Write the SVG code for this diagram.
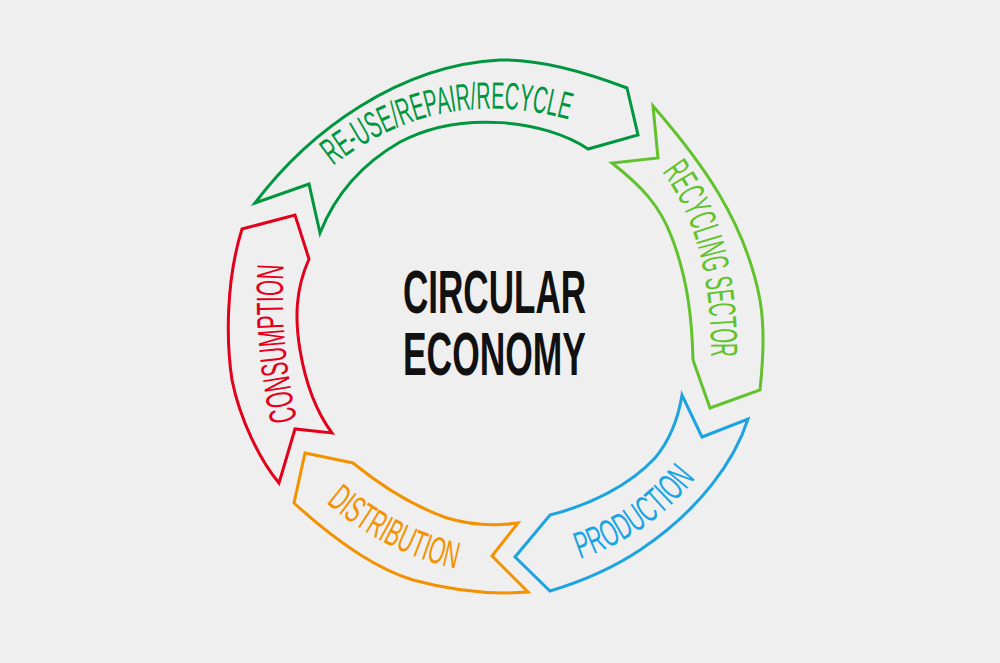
<svg xmlns="http://www.w3.org/2000/svg" xmlns:xlink="http://www.w3.org/1999/xlink" width="1000" height="663" viewBox="0 0 1000 663">
<style>
.rib{fill:none;stroke-width:3;stroke-linejoin:miter}
.lbl{font-family:"Liberation Sans",Arial,sans-serif;font-size:38px}
.title{font-family:"Liberation Sans",Arial,sans-serif;font-size:62px;font-weight:bold;fill:#111}
</style>
<defs>
<path id="pGreen" d="M333,166 Q440,82 574,121"/>
<path id="pLime" d="M662,172 Q712,238 711,360"/>
<path id="pBlue" d="M580,559 Q652,535 697,476"/>
<path id="pOrange" d="M326,503 Q388,555 458,569"/>
<path id="pRed" d="M297,420 Q279,340 284,262"/>
</defs>
<rect width="1000" height="663" fill="#efefef"/>
<g id="connectors">
<g id="reuse">
<path class="rib" stroke="#00963f" d="M255,203 C310,130 400,65 500,60 C540,59 585,72 627,88 L638,135 L588,149 C545,120 460,110 400,142 C360,165 335,195 320,233 L309,184 Z"/>
<text class="lbl" fill="#00963f" textLength="250" lengthAdjust="spacingAndGlyphs"><textPath xlink:href="#pGreen">RE-USE/REPAIR/RECYCLE</textPath></text>
</g>
<g id="recycling">
<path class="rib" stroke="#62c22d" d="M653,106 C700,160 745,220 760,300 C765,330 763,360 760,390 L710,408 L693,360 C692,320 688,280 672,238 C660,205 640,185 612,163 L658,158 Z"/>
<text class="lbl" fill="#62c22d" textLength="195" lengthAdjust="spacingAndGlyphs"><textPath xlink:href="#pLime">RECYCLING SECTOR</textPath></text>
</g>
<g id="production">
<path class="rib" stroke="#1ca3e2" d="M748,419 C735,460 700,510 640,550 C610,570 580,582 550,591 L515,557 L550,515 C590,505 630,485 655,458 C670,440 678,420 682,395 L702,437 Z"/>
<text class="lbl" fill="#1ca3e2" textLength="143" lengthAdjust="spacingAndGlyphs"><textPath xlink:href="#pBlue">PRODUCTION</textPath></text>
</g>
<g id="distribution">
<path class="rib" stroke="#f39200" d="M305,453 L353,463 C380,485 410,505 447,518 C470,525 495,526 518,523 L492,556 L528,592 C490,595 450,590 413,580 C380,570 340,545 294,503 Z"/>
<text class="lbl" fill="#f39200" textLength="147" lengthAdjust="spacingAndGlyphs"><textPath xlink:href="#pOrange">DISTRIBUTION</textPath></text>
</g>
<g id="consumption">
<path class="rib" stroke="#e3001b" d="M242,229 L295,215 L309,259 C295,290 295,320 300,350 C305,380 315,410 332,433 L295,429 L279,483 C260,460 240,420 232,380 C226,340 226,280 242,229 Z"/>
<text class="lbl" fill="#e3001b" textLength="156" lengthAdjust="spacingAndGlyphs"><textPath xlink:href="#pRed">CONSUMPTION</textPath></text>
</g>
</g>
<g id="center">
<text class="title" x="403" y="313" textLength="183" lengthAdjust="spacingAndGlyphs">CIRCULAR</text>
<text class="title" x="403" y="375" textLength="183" lengthAdjust="spacingAndGlyphs">ECONOMY</text>
</g>
</svg>
